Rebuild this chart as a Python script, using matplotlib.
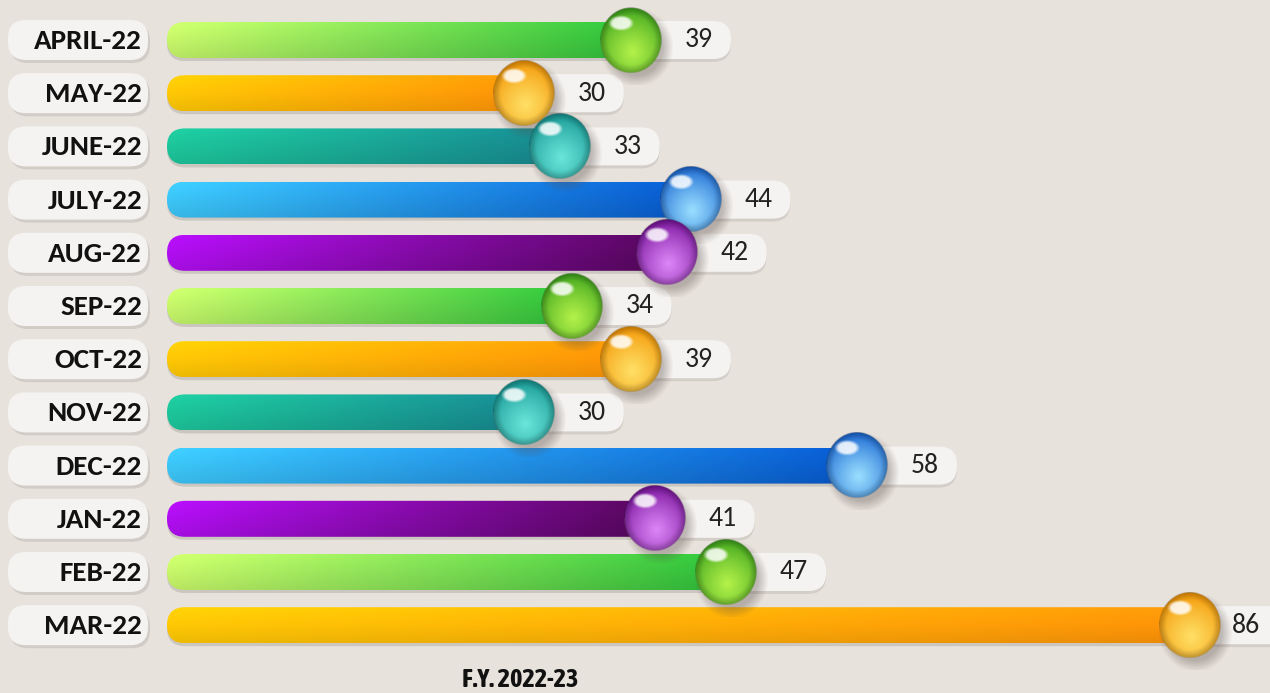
import numpy as np
import matplotlib.pyplot as plt
from matplotlib.patches import FancyBboxPatch
from matplotlib.colors import to_rgb

months = ['APRIL-22', 'MAY-22', 'JUNE-22', 'JULY-22', 'AUG-22', 'SEP-22',
          'OCT-22', 'NOV-22', 'DEC-22', 'JAN-22', 'FEB-22', 'MAR-22']
values = [39, 30, 33, 44, 42, 34, 39, 30, 58, 41, 47, 86]
title = 'F.Y. 2022-23'

# colour cycle: green, orange, teal, blue, purple
bar_left = ['#c8f76a', '#ffc905', '#1dc79b', '#3cc6f7', '#b10ef2']
bar_right = ['#2dbf3a', '#ff9408', '#17878f', '#0758cc', '#55075a']
ball_hi = ['#b4f24a', '#ffe066', '#6ae6da', '#9adfff', '#dc86f7']
ball_lo = ['#37a01a', '#f39200', '#11928f', '#1260d0', '#730c96']

plt.rcParams['font.family'] = ['Carlito', 'Asap', 'DejaVu Sans']
narrow = ['Asap Condensed', 'Archivo Narrow', 'DejaVu Sans']

W, H = 1270, 693
bg = '#e8e2dc'
fig = plt.figure(figsize=(12.7, 6.93), dpi=100)
fig.patch.set_facecolor(bg)
ax = fig.add_axes([0, 0, 1, 1])
ax.set_facecolor(bg)

# pixel geometry
x0px = 167
sx = (1190 - x0px) / max(values)   # px per value unit
y0px, pitch = 40, 53.2              # px of first row, px per row


def px_x(p):
    return p / sx


def px_y(p):
    return p / pitch


asp = sx / pitch


def pill(x, y, w, h, r, **kw):
    return FancyBboxPatch((x, y - h / 2), w, h,
                          boxstyle=f"round,pad=0,rounding_size={r}",
                          mutation_aspect=asp, **kw)


def ball_image(hi, lo, n=140):
    hi, lo = np.array(to_rgb(hi)), np.array(to_rgb(lo))
    g = np.linspace(-1.35, 1.35, n)
    u, v = np.meshgrid(g, g)
    r = np.hypot(u, v)
    d = np.hypot(u - 0.05, v - 0.35)
    f = np.clip(1 - d / 1.35, 0, 1) ** 0.8
    rgb = lo[None, None, :] + (hi - lo)[None, None, :] * f[..., None]
    # rim darkening
    rim = np.clip((r - 0.75) / 0.25, 0, 1)[..., None]
    rgb = rgb * (1 - 0.25 * rim)
    # specular highlight top-left
    hu, hv = (u + 0.32) / 0.42, (v + 0.52) / 0.24
    hd = np.hypot(hu * np.cos(0.6) - hv * np.sin(0.6), hu * np.sin(0.6) + hv * np.cos(0.6))
    ha = np.clip((1 - hd) * 3, 0, 1)[..., None] * 0.85
    rgb = rgb * (1 - ha) + ha
    a_ball = np.clip((1 - r) * 40, 0, 1)
    # soft shadow
    sd = np.hypot(u - 0.18, v - 0.22)
    a_sh = np.clip((1.2 - sd) / 0.35, 0, 1) * 0.35
    out = np.zeros((n, n, 4))
    a = a_ball + a_sh * (1 - a_ball)
    col = (rgb * a_ball[..., None] + np.array([0.35, 0.3, 0.28]) * (a_sh * (1 - a_ball))[..., None])
    out[..., :3] = np.where(a[..., None] > 0, col / np.maximum(a[..., None], 1e-6), 0)
    out[..., 3] = a
    return np.clip(out, 0, 1)


bh = px_y(36)
for i, (m, v) in enumerate(zip(months, values)):
    c = i % 5
    # left label pill
    ax.add_patch(pill(px_x(10 - x0px), i + px_y(3), px_x(140), px_y(40), px_x(18),
                      facecolor='#b8b2ac', edgecolor='none', alpha=0.45, zorder=1))
    ax.add_patch(pill(px_x(8 - x0px), i, px_x(140), px_y(40), px_x(18),
                      facecolor='#f5f3f1', edgecolor='none', zorder=2))
    ax.text(px_x(142 - x0px), i + px_y(1), m, ha='right', va='center',
            fontsize=21, fontweight='bold', color='#111111', zorder=3)

    # bar shadow
    ax.add_patch(pill(0, i + px_y(3), v, bh, px_x(18),
                      facecolor='#9a948e', edgecolor='none', alpha=0.35, zorder=1))
    # gradient bar
    t = np.linspace(0, 1, 256)
    l, rr = np.array(to_rgb(bar_left[c])), np.array(to_rgb(bar_right[c]))
    row = l[None, :] + (rr - l)[None, :] * t[:, None]
    shade = np.linspace(1.06, 0.93, 24)
    img = np.clip(row[None, :, :] * shade[:, None, None], 0, 1)
    clip = pill(0, i, v, bh, px_x(18), facecolor='none', edgecolor='none')
    ax.add_patch(clip)
    im = ax.imshow(img, extent=(0, v, i + bh / 2, i - bh / 2), aspect='auto',
                   interpolation='bilinear', zorder=2)
    im.set_clip_path(clip)

    # value pill
    ax.add_patch(pill(v, i + px_y(3), px_x(100), px_y(38), px_x(18),
                      facecolor='#b8b2ac', edgecolor='none', alpha=0.4, zorder=2.5))
    ax.add_patch(pill(v, i, px_x(100), px_y(38), px_x(18),
                      facecolor='#f5f3f1', edgecolor='none', zorder=3))
    tx = min(v + px_x(68), px_x(W - 24 - x0px))
    ax.text(tx, i, str(v), ha='center', va='center', fontsize=20,
            color='#222222', zorder=6)

    # glossy ball
    rx, ry = px_x(31), px_y(33)
    k = 1.35
    ax.imshow(ball_image(ball_hi[c], ball_lo[c]),
              extent=(v - k * rx, v + k * rx, i + k * ry, i - k * ry),
              aspect='auto', interpolation='bilinear', zorder=5)

ax.text(px_x(520 - x0px), px_y(680 - y0px), title, ha='center', va='center',
        fontsize=19, fontweight='bold', color='#111111', family=narrow)

ax.set_xlim(-x0px / sx, (W - x0px) / sx)
ax.set_ylim((H - y0px) / pitch, -y0px / pitch)
ax.axis('off')

plt.savefig('out.png', dpi=100, facecolor=bg)
